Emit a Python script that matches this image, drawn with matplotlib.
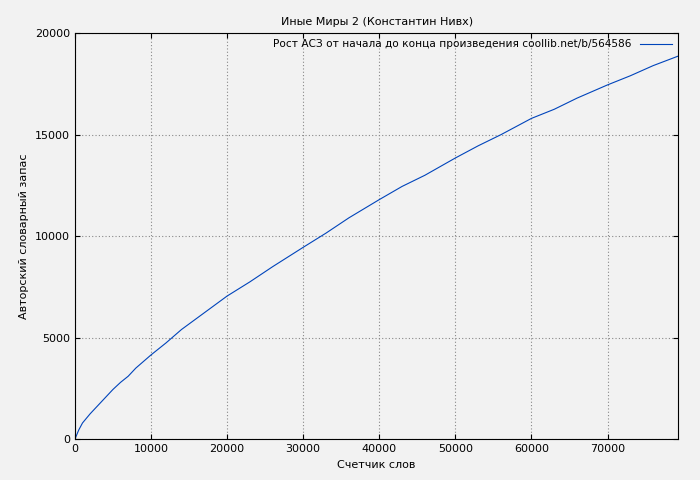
import matplotlib
matplotlib.use("Agg")
import matplotlib.pyplot as plt

# word counter vs cumulative author vocabulary
words = [0, 500, 1000, 2000, 3000, 4000, 5000, 6000, 7000, 8000, 10000, 12000,
         14000, 16000, 18000, 20000, 23000, 26000, 30000, 33000, 36000, 40000,
         43000, 46000, 50000, 53000, 56000, 60000, 63000, 66000, 70000, 73000,
         76000, 79300]
vocab = [0, 450, 800, 1250, 1650, 2050, 2450, 2800, 3100, 3500, 4150, 4750,
         5400, 5950, 6500, 7050, 7750, 8500, 9450, 10150, 10900, 11800,
         12450, 13000, 13850, 14450, 15000, 15800, 16250, 16800, 17450, 17900,
         18400, 18870]

BG = "#f2f2f2"
fig, ax = plt.subplots(figsize=(7, 4.8), dpi=100)
fig.patch.set_facecolor(BG)
ax.set_facecolor(BG)
fig.subplots_adjust(left=0.107, right=0.969, top=0.931, bottom=0.085)

ax.plot(words, vocab, color="#0044bb", linewidth=0.8,
        label="Рост АСЗ от начала до конца произведения coollib.net/b/564586")
ax.set_xlim(0, 79300)
ax.set_ylim(0, 20000)
ax.set_xticks(range(0, 79300, 10000))
ax.set_yticks(range(0, 20001, 5000))
ax.grid(True, color="#888888", linestyle=(0, (1, 2)), linewidth=0.8)
ax.tick_params(labelsize=8, direction="in", top=True, right=True)
ax.set_xlabel("Счетчик слов", fontsize=8)
ax.set_ylabel("Авторский словарный запас", fontsize=8)
ax.set_title("Иные Миры 2 (Константин Нивх)", fontsize=8)
ax.legend(loc="upper right", fontsize=7.6, frameon=False, markerfirst=False,
          handlelength=3, borderaxespad=0.2)
fig.savefig("out.png", dpi=100, facecolor=BG)
